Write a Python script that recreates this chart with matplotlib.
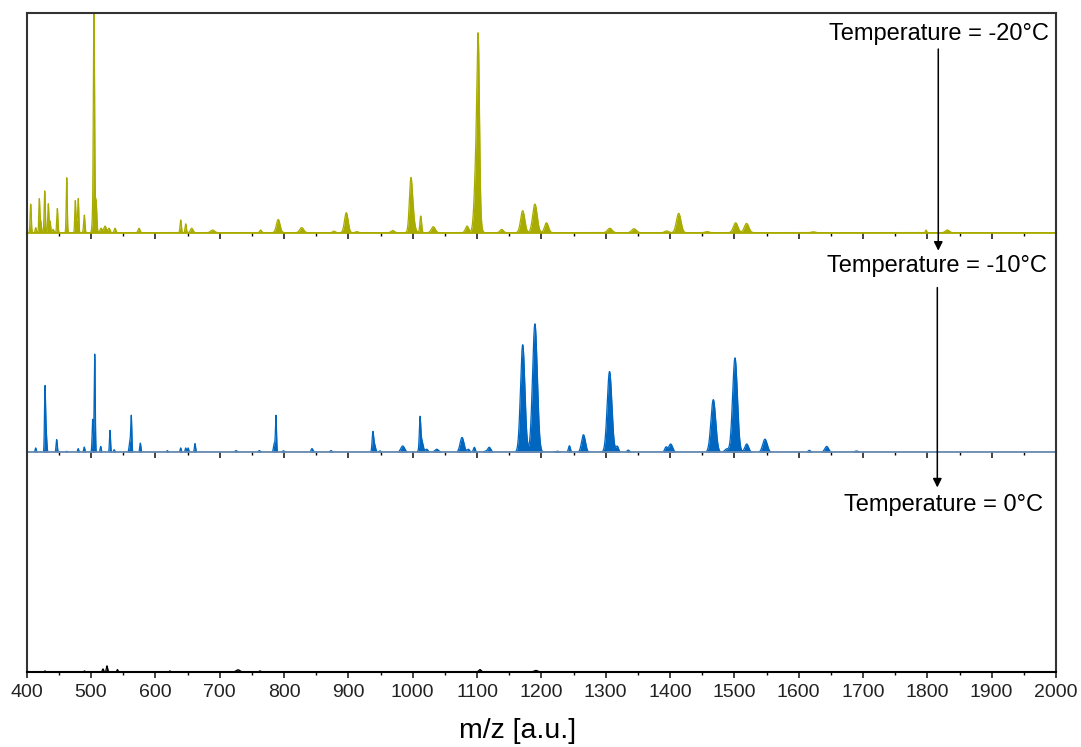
import numpy as np
import matplotlib
matplotlib.use("Agg")
import matplotlib.pyplot as plt
from matplotlib.ticker import MultipleLocator

plt.rcParams['font.family'] = ['Liberation Sans', 'DejaVu Sans']

# --------------------------------
# Peak tables (m/z, relative height, width)
# --------------------------------
mz_m20 = [406.2, 414, 419.6, 421.8, 428, 433.6, 436.2, 441, 447.6, 462.2,
          475.5, 478, 480.2, 489.5, 503, 504.6, 507.7, 515.5, 521.7, 528,
          537.3, 574.6, 639.4, 647.2, 656.5, 689, 763.7, 791, 827.5, 877.7,
          896.8, 913, 969, 997, 999.5, 1012.5, 1032, 1084.5, 1100, 1102,
          1138.4, 1171, 1190, 1208, 1306.4, 1344, 1394.8, 1413.5, 1457.5, 1502,
          1519, 1622.7, 1798, 1831]
h_m20 = [0.13, 0.023, 0.15, 0.053, 0.19, 0.13, 0.053, 0.015, 0.11, 0.25,
         0.14, 0.053, 0.145, 0.08, 0.09, 1.05, 0.15, 0.02, 0.03, 0.02,
         0.02, 0.02, 0.058, 0.04, 0.02, 0.012, 0.012, 0.06, 0.023, 0.007,
         0.091, 0.005, 0.01, 0.19, 0.08, 0.076, 0.027, 0.03, 0.42, 0.55,
         0.015, 0.10, 0.13, 0.045, 0.02, 0.018, 0.008, 0.088, 0.005, 0.045,
         0.042, 0.004, 0.012, 0.012]
w_m20 = [0.9, 0.9, 0.8, 1.0, 0.9, 0.8, 1.0, 1.2, 0.9, 0.8,
         0.8, 1.2, 0.8, 1.0, 1.2, 0.9, 1.2, 1.5, 2.0, 1.5,
         1.3, 1.5, 1.0, 1.0, 2.0, 3.0, 1.5, 2.8, 3.0, 2.0,
         2.8, 2.0, 2.5, 2.3, 3.2, 1.3, 3.0, 2.5, 3.3, 1.8,
         2.5, 3.2, 3.5, 3.0, 3.5, 3.5, 3.0, 3.5, 3.0, 3.5,
         3.5, 3.0, 0.9, 3.0]

mz_m10 = [414, 428.4, 430, 446.6, 462, 480, 489.5, 502.6, 505.7, 515,
          529.5, 536, 560.6, 562.6, 576.6, 618.6, 639.4, 647.2, 651, 661.6,
          725.4, 761.6, 785, 787.5, 799, 843.5, 873, 938, 940, 949,
          984.5, 1011.4, 1013.4, 1021.8, 1037.4, 1076.7, 1086.5, 1095.8, 1112.5, 1119,
          1171, 1190, 1224.8, 1243.6, 1265.5, 1306, 1318, 1335, 1393.7, 1401,
          1467.3, 1488, 1501, 1519.2, 1547.6, 1616.5, 1643.5, 1690]
h_m10 = [0.02, 0.267, 0.10, 0.058, 0.005, 0.017, 0.024, 0.15, 0.447, 0.027,
         0.10, 0.012, 0.05, 0.153, 0.042, 0.008, 0.02, 0.02, 0.02, 0.04,
         0.008, 0.008, 0.042, 0.162, 0.007, 0.017, 0.008, 0.07, 0.04, 0.007,
         0.029, 0.12, 0.06, 0.014, 0.014, 0.068, 0.014, 0.023, 0.005, 0.023,
         0.49, 0.585, 0.005, 0.03, 0.08, 0.368, 0.027, 0.01, 0.023, 0.038,
         0.24, 0.015, 0.43, 0.038, 0.06, 0.009, 0.027, 0.006]
w_m10 = [0.9, 0.8, 1.1, 0.9, 1.0, 0.9, 0.9, 0.9, 0.8, 0.9,
         0.8, 1.0, 1.3, 0.8, 0.9, 1.0, 0.9, 0.9, 0.9, 0.9,
         1.5, 1.5, 1.3, 0.8, 1.5, 1.5, 1.5, 1.1, 2.0, 1.5,
         3.0, 1.0, 2.5, 2.0, 3.0, 3.0, 2.0, 1.5, 2.0, 2.5,
         3.4, 3.7, 3.0, 1.5, 3.0, 3.6, 2.0, 2.0, 2.0, 3.0,
         3.7, 3.0, 3.7, 3.0, 3.5, 2.0, 3.0, 3.0]

mz_0 = [428.4, 489.8, 518.6, 524.8, 541, 622.5, 728.5, 762.7, 1104.6, 1191.6]
h_0 = [0.005, 0.005, 0.014, 0.028, 0.011, 0.005, 0.01, 0.005, 0.011, 0.007]
w_0 = [0.9, 0.9, 1.0, 1.0, 0.9, 1.0, 3.0, 1.5, 2.0, 3.0]

labels = ['Temperature = -20°C', 'Temperature = -10°C', 'Temperature = 0°C']
colors = ['#a8ac00', '#0066bf', '#000000']
base_colors = ['#a8ac00', '#6a8bb0', '#000000']

# --------------------------------
# Build spectra
# --------------------------------
mz = np.arange(400, 2000.01, 0.1)


def spectrum(centers, heights, widths):
    y = np.zeros_like(mz)
    for c, h, w in zip(centers, heights, widths):
        y += h * np.exp(-0.5 * ((mz - c) / w) ** 2)
    return y


spectra = [spectrum(mz_m20, h_m20, w_m20),
           spectrum(mz_m10, h_m10, w_m10),
           spectrum(mz_0, h_0, w_0)]

# --------------------------------
# Plot
# --------------------------------
fig = plt.figure(figsize=(10.81, 7.47), dpi=100)
left, right = 26.7 / 1081, 1056 / 1081
top, bottom = 1 - 13 / 747, 1 - 672 / 747
ph = (top - bottom) / 3

axes = []
for i in range(3):
    ax = fig.add_axes([left, top - (i + 1) * ph, right - left, ph])
    ax.patch.set_visible(False)
    ax.fill_between(mz, 0, spectra[i], color=colors[i], lw=0)
    ax.plot(mz, spectra[i], color=colors[i], lw=0.9)
    ax.set_xlim(400, 2000)
    ax.set_ylim(0, 1)
    ax.set_yticks([])
    ax.xaxis.set_major_locator(MultipleLocator(100))
    ax.xaxis.set_minor_locator(MultipleLocator(50))
    ax.tick_params(axis='x', which='major', direction='out', length=4,
                   width=1.2, labelsize=14, colors='#222222', pad=5)
    ax.tick_params(axis='x', which='minor', direction='out', length=2.5,
                   width=1.0)
    for s in ax.spines.values():
        s.set_linewidth(1.5)
        s.set_color('#333333')
    if i > 0:
        ax.spines['top'].set_visible(False)
    if i < 2:
        ax.tick_params(axis='x', labelbottom=False)
        ax.spines['bottom'].set_color(base_colors[i])
        ax.spines['bottom'].set_linewidth(1.3)
    axes.append(ax)

axes[2].spines['bottom'].set_color('#000000')
axes[2].set_xlabel('m/z [a.u.]', fontsize=20.5, labelpad=12, x=0.477)

# temperature labels
label_pos = [(1989, 0.905), (1985.6, 0.85), (1979.4, 0.76)]
for ax, lab, (xp, yp) in zip(axes, labels, label_pos):
    ax.text(xp, yp, lab, fontsize=17, ha='right', va='center')

# arrows between panels
arrow_x = 1817
axes[2].annotate('', xy=(arrow_x, 0.918), xycoords=axes[1].transData,
                 xytext=(arrow_x, 0.836), textcoords=axes[0].transData,
                 arrowprops=dict(arrowstyle='-|>', color='black', lw=1.1,
                                 mutation_scale=13, shrinkA=0, shrinkB=0),
                 annotation_clip=False)
axes[2].annotate('', xy=(arrow_x - 1.5, 0.84), xycoords=axes[2].transData,
                 xytext=(arrow_x - 1.5, 0.75), textcoords=axes[1].transData,
                 arrowprops=dict(arrowstyle='-|>', color='black', lw=1.1,
                                 mutation_scale=13, shrinkA=0, shrinkB=0),
                 annotation_clip=False)

fig.savefig('out.png', dpi=100)
